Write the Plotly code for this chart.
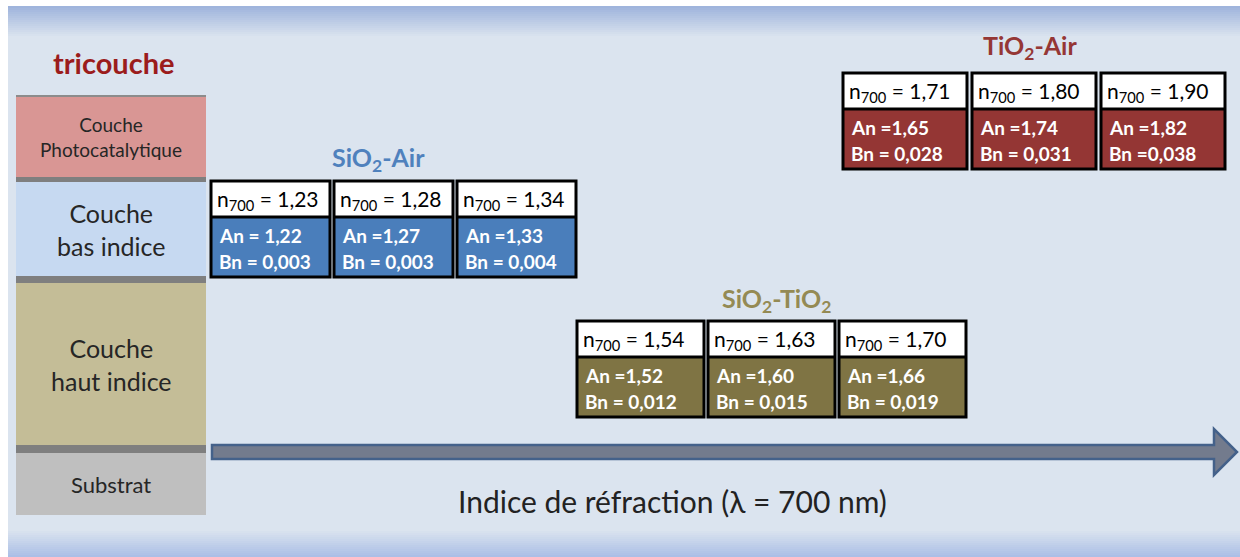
import plotly.graph_objects as go

W, H = 1240, 557
FONT = "Lato"

# data
groups = ["SiO<sub>2</sub>-Air", "SiO<sub>2</sub>-TiO<sub>2</sub>", "TiO<sub>2</sub>-Air"]
n700 = [["1,23", "1,28", "1,34"], ["1,54", "1,63", "1,70"], ["1,71", "1,80", "1,90"]]
an_labels = [["An = 1,22", "An =1,27", "An =1,33"],
             ["An =1,52", "An =1,60", "An =1,66"],
             ["An =1,65", "An =1,74", "An =1,82"]]
bn_labels = [["Bn = 0,003", "Bn = 0,003", "Bn = 0,004"],
             ["Bn = 0,012", "Bn = 0,015", "Bn = 0,019"],
             ["Bn = 0,028", "Bn = 0,031", "Bn =0,038"]]
layers = ["Couche<br>Photocatalytique", "Couche<br>bas indice", "Couche<br>haut indice", "Substrat"]
axis_label = "Indice de réfraction (λ = 700 nm)"

# layout / styling
group_colors = ["#4a7ebb", "#7f7444", "#943634"]
title_colors = ["#4f81bd", "#948a54", "#953735"]
group_x0 = [211, 577, 843]
group_w = [119, 127, 124]
group_gap = [4, 4, 5]
group_top = [181, 321, 73]
title_pos = [(378, 159), (776, 300), (1030, 47)]
box_h, white_h = 96, 36

layer_colors = ["#d99694", "#c6d9f1", "#c4bd97", "#bfbfbf"]
layer_y = [(96, 177), (182, 276), (283, 445), (453, 515)]
layer_fs = [19, 25, 25, 22]
sep_y = [(177, 182), (276, 283), (445, 453)]
PX0, PX1 = 16, 206

shapes, ann = [], []


def mix(c1, c2, t):
    a = [int(c1[i:i + 2], 16) for i in (1, 3, 5)]
    b = [int(c2[i:i + 2], 16) for i in (1, 3, 5)]
    return "rgb(%d,%d,%d)" % tuple(round(a[k] + (b[k] - a[k]) * t) for k in range(3))


def rect(x0, y0, x1, y1, fill, line=None, lw=0):
    shapes.append(dict(type="rect", xref="x", yref="y", x0=x0, y0=y0, x1=x1, y1=y1,
                       fillcolor=fill, line=dict(color=line or fill, width=lw), layer="below"))


# background with gradient bands at top and bottom
rect(0, 0, W, H, "#ffffff")
rect(8, 6, W, H, "#dbe4ef")
for i in range(16):
    y = 6 + i * 2
    rect(8, y, W, y + 2, mix("#9fb4dc", "#dbe4ef", i / 15))
for i in range(14):
    y = 529 + i * 2
    rect(8, y, W, y + 2, mix("#dbe4ef", "#abbfe6", i / 13))

# left layer stack
for (y0, y1), c in zip(layer_y, layer_colors):
    rect(PX0, y0, PX1, y1, c)
rect(PX0, 95, PX1, 97, "#8c8c8c")
for y0, y1 in sep_y:
    rect(PX0, y0, PX1, y1, "#7f7f7f")
for name, (y0, y1), fs in zip(layers, layer_y, layer_fs):
    ann.append(dict(x=(PX0 + PX1) / 2, y=(y0 + y1) / 2, text=name, showarrow=False,
                    font=dict(family=FONT, size=fs, color="#262626")))
ann.append(dict(x=114, y=62, text="<b>tricouche</b>", showarrow=False,
                font=dict(family=FONT, size=29, color="#9b1c1c")))

# refractive index arrow
shapes.append(dict(type="path", xref="x", yref="y",
                   path="M212,445 L1214,445 L1214,429 L1237,452 L1214,475 L1214,459 L212,459 Z",
                   fillcolor="#737b8d", line=dict(color="#44618a", width=2.5)))
ann.append(dict(x=672, y=501, text=axis_label, showarrow=False,
                font=dict(family=FONT, size=30, color="#222222")))

# value boxes per material family
for g in range(3):
    tx, ty = title_pos[g]
    ann.append(dict(x=tx, y=ty, text="<b>%s</b>" % groups[g], showarrow=False,
                    font=dict(family=FONT, size=25, color=title_colors[g])))
    top = group_top[g]
    for k in range(3):
        x0 = group_x0[g] + k * (group_w[g] + group_gap[g])
        x1 = x0 + group_w[g]
        shapes.append(dict(type="rect", xref="x", yref="y", x0=x0, y0=top, x1=x1, y1=top + white_h,
                           fillcolor="white", line=dict(color="black", width=0)))
        shapes.append(dict(type="rect", xref="x", yref="y", x0=x0, y0=top + white_h, x1=x1, y1=top + box_h,
                           fillcolor=group_colors[g], line=dict(color="black", width=0)))
        shapes.append(dict(type="line", xref="x", yref="y", x0=x0, y0=top + white_h, x1=x1, y1=top + white_h,
                           line=dict(color="black", width=3)))
        shapes.append(dict(type="rect", xref="x", yref="y", x0=x0, y0=top, x1=x1, y1=top + box_h,
                           fillcolor="rgba(0,0,0,0)", line=dict(color="black", width=3)))
        ann.append(dict(x=x0 + 4, y=top + white_h / 2 + 1, xanchor="left", showarrow=False,
                        text="n<sub>700</sub> = %s" % n700[g][k],
                        font=dict(family=FONT, size=21, color="black")))
        ann.append(dict(x=x0 + 6, y=top + white_h + 18, xanchor="left", showarrow=False,
                        text="<b>%s</b>" % an_labels[g][k],
                        font=dict(family=FONT, size=19, color="white")))
        ann.append(dict(x=x0 + 6, y=top + white_h + 44, xanchor="left", showarrow=False,
                        text="<b>%s</b>" % bn_labels[g][k],
                        font=dict(family=FONT, size=19, color="white")))

fig = go.Figure()
fig.update_layout(
    width=W, height=H, margin=dict(l=0, r=0, t=0, b=0),
    paper_bgcolor="white", plot_bgcolor="white", showlegend=False,
    xaxis=dict(range=[0, W], visible=False, fixedrange=True),
    yaxis=dict(range=[H, 0], visible=False, fixedrange=True),
    shapes=shapes, annotations=ann,
)
fig.write_html("out.html", config={"displayModeBar": False},
               post_script="document.body.style.margin='0';")
